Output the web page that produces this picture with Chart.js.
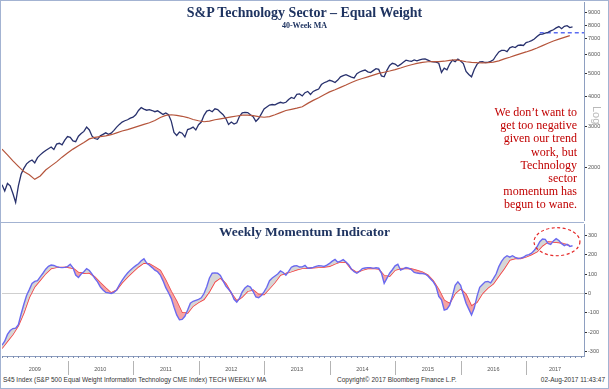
<!DOCTYPE html>
<html>
<head>
<meta charset="utf-8">
<script src="https://cdn.jsdelivr.net/npm/chart.js@4.4.1/dist/chart.umd.min.js"></script>
<style>
  html, body { margin: 0; padding: 0; background: #fff; }
  #page { position: relative; width: 609px; height: 389px; overflow: hidden; background: #fff; }
  .abs { position: absolute; white-space: nowrap; }
  canvas { position: absolute; }
  #frame { left: 0; top: 0; width: 607px; height: 387px; border: 1px solid #a3b3d2; }
  #split { left: 1px; top: 222px; width: 583px; height: 1px; background: #a3b3d2; }
  .ttl { font-family: 'Liberation Serif', serif; font-weight: bold; color: #1f3461; text-align: center; left: 0; width: 609px; }
  #note { right: 32px; top: 106px; font-family: 'Liberation Serif', serif; font-size: 12px; line-height: 13.2px; color: #c00000; text-align: right; }
  #logLbl { left: 588px; top: 109px; font-family: 'Liberation Sans', sans-serif; font-size: 11px; color: #b9b9b9; transform: rotate(90deg); transform-origin: 50% 50%; width: 18px; text-align: center; }
  .foot { top: 376px; font-family: 'Liberation Sans', sans-serif; font-size: 6.5px; line-height: 8px; color: #333; }
</style>
</head>
<body>
<div id="page">
  <div class="abs" id="frame"></div>
  <canvas id="priceChart" width="605" height="219" style="left:2px;top:2px"></canvas>
  <canvas id="momChart" width="605" height="152" style="left:2px;top:224px"></canvas>
  <div class="abs" id="split"></div>
  <div class="abs ttl" style="top:4px;font-size:14px;line-height:17px">S&amp;P Technology Sector – Equal Weight</div>
  <div class="abs ttl" style="top:21px;font-size:8px;line-height:9px">40-Week MA</div>
  <div class="abs ttl" style="top:224px;font-size:13.5px;line-height:16px">Weekly Momentum Indicator</div>
  <div class="abs" id="note">We don’t want to<br>get too negative<br>given our trend<br>work, but<br>Technology<br>sector<br>momentum has<br>begun to wane.</div>
  <div class="abs" id="logLbl">Log</div>
  <div class="abs foot" style="left:3px">S45 Index (S&amp;P 500 Equal Weight Information Technology CME Index) TECH WEEKLY MA</div>
  <div class="abs foot" style="left:337px">Copyright© 2017 Bloomberg Finance L.P.</div>
  <div class="abs foot" style="right:4px">02-Aug-2017 11:43:47</div>
</div>
<script>
// half-month samples from Jan 2009 (x = sample index)
const price = [
  1700,1600,1720,1680,1560,1430,1680,1880,1990,2080,
  2130,2160,2100,2210,2270,2320,2370,2410,2450,2390,
  2520,2540,2500,2620,2710,2690,2600,2580,2720,2790,
  2850,2970,2890,2720,2660,2640,2730,2770,2810,2770,
  2800,2880,2970,3050,3120,3160,3190,3240,3270,3350,
  3490,3590,3540,3500,3520,3490,3450,3480,3420,3360,
  3410,3350,3150,2820,2740,2830,2800,2700,2900,2930,
  2970,2890,3040,3120,3330,3470,3500,3450,3550,3520,
  3430,3350,3230,3050,3120,3060,3100,3300,3410,3430,
  3420,3350,3290,3140,3230,3380,3540,3610,3680,3700,
  3690,3740,3780,3750,3780,3880,3960,3920,4080,4100,
  4020,4150,4200,4080,4200,4250,4300,4490,4570,4620,
  4680,4640,4580,4690,4840,4900,4940,4880,4830,4790,
  4990,5070,5130,5170,5080,5040,5140,5240,5200,4880,
  4840,5150,5400,5520,5480,5360,5460,5580,5690,5650,
  5620,5700,5650,5700,5740,5760,5690,5620,5600,5580,
  5520,5050,5260,5180,5480,5690,5610,5750,5640,5500,
  5100,4950,4840,5200,5460,5600,5610,5560,5570,5620,
  5710,5950,6160,6250,6260,6180,6410,6480,6430,6560,
  6590,6560,6740,6800,6880,6980,7150,7300,7330,7390,
  7450,7560,7640,7780,7880,7720,7900,7950,7800,7850
];
const momentum = [
  -265,-245,-210,-190,-180,-178,-160,-105,-55,-10,
  20,52,62,66,85,104,125,140,146,144,
  138,134,133,134,138,150,132,95,82,100,
  112,128,118,100,78,60,34,18,6,3,
  0,6,18,45,67,88,105,120,132,143,
  153,168,178,156,145,133,120,112,95,65,
  30,4,-25,-70,-110,-135,-133,-117,-85,-50,
  -40,-35,-30,-22,0,35,80,104,106,104,
  93,65,38,22,5,-30,-44,-25,8,28,
  40,33,10,-18,-22,-10,8,32,66,80,
  90,100,116,108,94,114,135,141,143,136,
  137,144,130,131,134,139,143,142,139,146,
  155,166,175,161,166,174,162,148,125,112,
  104,114,128,131,133,133,129,132,130,105,
  52,78,104,122,142,150,120,126,133,130,
  122,108,105,103,103,100,90,75,60,36,
  -15,-33,-85,-80,-60,-12,42,60,42,-5,
  -50,-80,-110,-75,-15,32,46,60,62,55,
  76,100,138,165,184,194,187,194,186,180,
  182,186,196,200,207,222,240,266,280,278,
  257,252,270,282,272,256,246,253,242,245
];
// monthly samples (x = 2 * month index)
const priceMA = [
  2400,2270,2140,2030,1930,1870,1790,1850,1960,2040,
  2120,2220,2310,2400,2480,2560,2650,2690,2710,2730,
  2760,2810,2860,2900,2950,3000,3050,3100,3170,3260,
  3330,3350,3330,3300,3260,3200,3160,3130,3150,3190,
  3220,3250,3280,3310,3340,3340,3320,3290,3270,3290,
  3350,3420,3490,3530,3570,3620,3740,3850,3950,4070,
  4180,4270,4370,4470,4580,4680,4760,4840,4920,5000,
  5060,5120,5190,5270,5360,5440,5510,5570,5600,5610,
  5610,5630,5680,5710,5660,5600,5570,5550,5540,5550,
  5580,5650,5760,5850,5960,6060,6160,6270,6400,6550,
  6700,6850,6980,7100,7220
];
const momentumMA = [
  -282,-245,-210,-165,-100,-20,35,68,102,128,
  134,134,135,130,108,104,106,85,55,28,
  3,18,55,85,112,137,157,152,136,118,
  68,10,-40,-100,-100,-65,-46,-30,10,60,
  80,50,2,-38,-18,12,18,-5,-5,25,
  57,95,103,112,122,129,130,132,134,136,
  140,152,162,160,125,108,120,128,129,125,
  92,88,120,128,129,126,118,110,95,65,
  20,-35,-52,0,24,-5,-65,-45,0,28,
  50,90,128,172,180,180,188,200,215,245,
  265,264,262,255,246
];
const years = ['2009','2010','2011','2012','2013','2014','2015','2016','2017'];
const priceTicks = [2000,3000,4000,5000,6000,7000,8000,9000];
const momTicks = [-300,-200,-100,0,100,200,300];
const resistance = { from: 197, to: 213.2, value: 7420 };
const circle = { x: 203.3, y: 266, rx: 8.4, ry: 72 };

const X_MAX = 213.2;
const PER_YEAR = 24;
const TICK_FONT = { family: 'Liberation Sans', size: 5.5 };
const AXIS_COL = '#8e9fc0';

const halfMonth = arr => arr.map((v, i) => ({ x: i, y: v }));
const monthly = arr => arr.map((v, j) => ({ x: 2 * j, y: v }));

const yearMid = years.map((_, k) => (k * PER_YEAR + Math.min((k + 1) * PER_YEAR, X_MAX)) / 2);

// fixed-width right axis, no label padding pushed into the plot area
function rightAxis(extra) {
  return Object.assign({
    position: 'right',
    afterFit: s => { s.width = 23; s.paddingTop = 0; s.paddingBottom = 0; },
    ticks: { font: TICK_FONT, color: '#555', padding: 1, autoSkip: false, callback: v => String(v) },
    grid: { drawOnChartArea: false, drawTicks: true, tickLength: 3, tickColor: '#333' },
    border: { display: true, color: AXIS_COL, width: 1 }
  }, extra);
}

new Chart(document.getElementById('priceChart'), {
  type: 'line',
  data: {
    datasets: [
      { data: monthly(priceMA), borderColor: '#b5553c', borderWidth: 1.2, pointRadius: 0 },
      { data: halfMonth(price), borderColor: '#28316d', borderWidth: 1.3, pointRadius: 0 },
      { data: [{ x: resistance.from, y: resistance.value }, { x: resistance.to, y: resistance.value }],
        borderColor: '#5a6cf2', borderWidth: 1.6, borderDash: [4, 3], pointRadius: 0 }
    ]
  },
  options: {
    responsive: false, animation: false, events: [],
    layout: { padding: 0 },
    plugins: { legend: { display: false }, tooltip: { enabled: false } },
    scales: {
      x: { type: 'linear', min: 0, max: X_MAX, display: false },
      y: rightAxis({
        type: 'logarithmic', min: 1195, max: 10000,
        afterBuildTicks: s => { s.ticks = priceTicks.map(v => ({ value: v })); }
      })
    }
  }
});

const bottomMarks = {
  id: 'bottomMarks',
  afterDatasetsDraw(chart) {
    const { ctx, chartArea: a, scales: { x, y } } = chart;
    ctx.save();
    // red dashed ellipse
    const cx = x.getPixelForValue(circle.x), cy = y.getPixelForValue(circle.y);
    const rx = x.getPixelForValue(circle.x + circle.rx) - cx;
    const ry = cy - y.getPixelForValue(circle.y + circle.ry);
    ctx.strokeStyle = '#e52a2a'; ctx.lineWidth = 1.2; ctx.setLineDash([3, 2.5]);
    ctx.beginPath(); ctx.ellipse(cx, cy, rx, ry, 0, 0, Math.PI * 2); ctx.stroke();
    ctx.setLineDash([]);
    // monthly ticks under the axis
    ctx.strokeStyle = '#7d8db0'; ctx.lineWidth = 1;
    for (let m = 0; m * 2 <= X_MAX; m++) {
      const px = Math.round(x.getPixelForValue(m * 2)) + 0.5;
      ctx.beginPath(); ctx.moveTo(px, a.bottom); ctx.lineTo(px, a.bottom + 2); ctx.stroke();
    }
    // year separators
    ctx.strokeStyle = '#b4b4b4';
    for (let k = 1; k < years.length; k++) {
      const px = Math.round(x.getPixelForValue(k * PER_YEAR)) + 0.5;
      ctx.beginPath(); ctx.moveTo(px, a.bottom + 5); ctx.lineTo(px, a.bottom + 19); ctx.stroke();
    }
    ctx.restore();
  }
};

new Chart(document.getElementById('momChart'), {
  type: 'line',
  data: {
    datasets: [
      { data: halfMonth(momentum), borderColor: '#6a6af0', borderWidth: 1.4, pointRadius: 0,
        fill: { target: 1, above: '#d6d6d6', below: '#f5a3a3' } },
      { data: monthly(momentumMA), borderColor: '#f23a3a', borderWidth: 1.4, pointRadius: 0 }
    ]
  },
  options: {
    responsive: false, animation: false, events: [],
    layout: { padding: 0 },
    plugins: { legend: { display: false }, tooltip: { enabled: false } },
    scales: {
      x: {
        type: 'linear', min: 0, max: X_MAX,
        afterBuildTicks: s => { s.ticks = yearMid.map(v => ({ value: v })); },
        afterFit: s => { s.height = 20; s.paddingLeft = 0; s.paddingRight = 0; },
        ticks: { font: TICK_FONT, color: '#555', padding: 2, autoSkip: false, maxRotation: 0,
                 callback: (v, i) => years[i] },
        grid: { display: false },
        border: { display: true, color: AXIS_COL }
      },
      y: rightAxis({
        min: -321, max: 357,
        afterBuildTicks: s => { s.ticks = momTicks.map(v => ({ value: v })); },
        grid: { drawOnChartArea: true, drawTicks: true, tickLength: 3, tickColor: '#333',
                color: c => (c.tick && c.tick.value === 0 ? '#cfcfcf' : 'rgba(0,0,0,0)') }
      })
    }
  },
  plugins: [bottomMarks]
});
</script>
</body>
</html>
